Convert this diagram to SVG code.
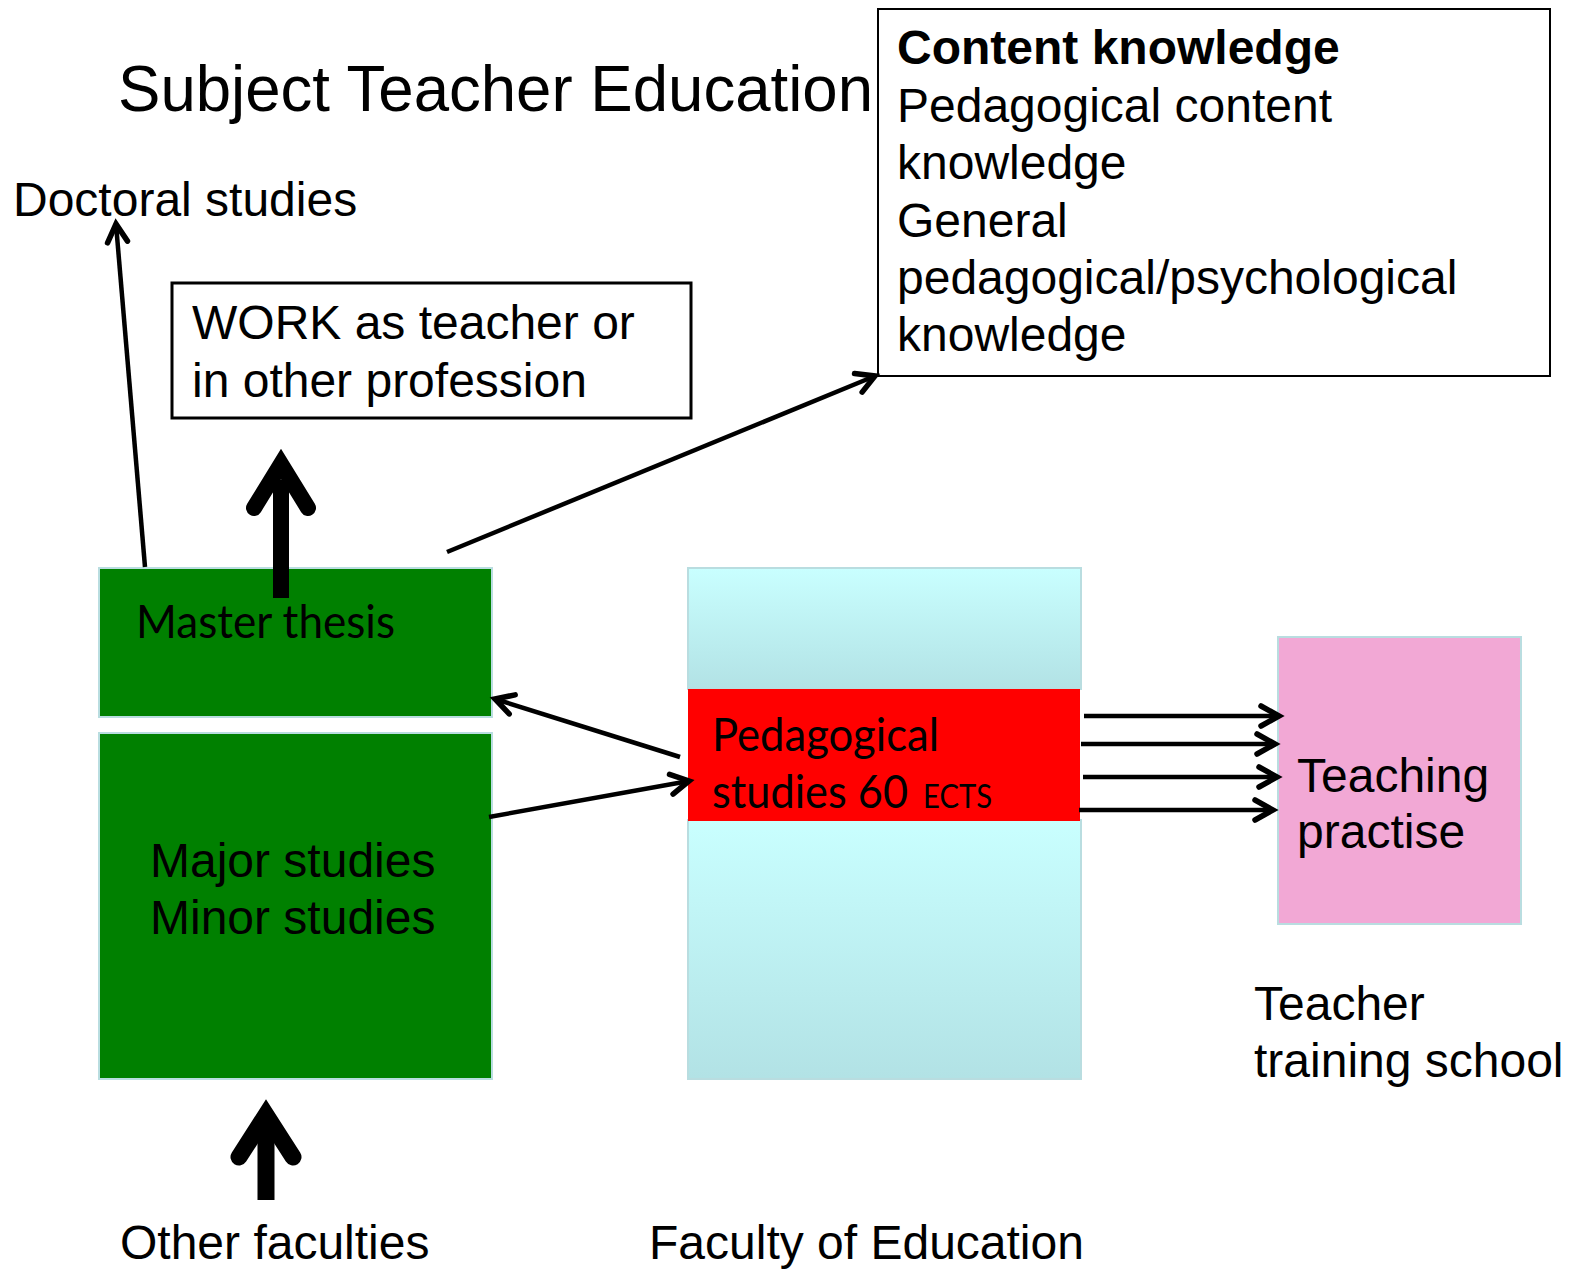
<svg xmlns="http://www.w3.org/2000/svg" width="1573" height="1269" viewBox="0 0 1573 1269">
<style>
.t{font-family:"Liberation Sans",Arial,sans-serif;font-size:48px;fill:#000}
.c{font-family:Lato,"Open Sans",sans-serif;font-size:46px;fill:#000}
.ln{stroke:#000;stroke-width:4.5;fill:none}
.thick{stroke:#000;stroke-width:16;fill:none}
.box{stroke:#b9dde0;stroke-width:2}
</style>
<defs>
<linearGradient id="blue" x1="0" y1="0" x2="0" y2="1">
<stop offset="0" stop-color="#c9ffff"/>
<stop offset="1" stop-color="#b2e2e5"/>
</linearGradient>
<marker id="ah" markerUnits="userSpaceOnUse" orient="auto" refX="0" refY="0" markerWidth="40" markerHeight="40" viewBox="-30 -20 40 40" overflow="visible">
<path d="M -18 -10 L 0 0 L -18 10" fill="none" stroke="#000" stroke-width="5.5" stroke-linecap="round" stroke-linejoin="miter"/>
</marker>
</defs>
<rect width="1573" height="1269" fill="#fff"/>

<g id="title"><text class="t" x="118" y="111" style="font-size:64px" textLength="755" lengthAdjust="spacingAndGlyphs">Subject Teacher Education</text></g>

<g id="knowledge">
<rect x="878" y="9" width="672" height="367" fill="#fff" stroke="#000" stroke-width="2"/>
<text class="t" x="897" y="64" font-weight="bold">Content knowledge</text>
<text class="t" x="897" y="122">Pedagogical content</text>
<text class="t" x="897" y="179">knowledge</text>
<text class="t" x="897" y="237">General</text>
<text class="t" x="897" y="294">pedagogical/psychological</text>
<text class="t" x="897" y="351">knowledge</text>
</g>

<g id="doctoral"><text class="t" x="13" y="216">Doctoral studies</text></g>

<g id="work">
<rect x="172" y="283" width="519" height="135" fill="#fff" stroke="#000" stroke-width="3"/>
<text class="t" x="192" y="339">WORK as teacher or</text>
<text class="t" x="192" y="397">in other profession</text>
</g>

<g id="master">
<rect class="box" x="99" y="568" width="393" height="149" fill="#008000"/>
<text class="c" x="136" y="638" textLength="259" lengthAdjust="spacingAndGlyphs">Master thesis</text>
</g>

<g id="major">
<rect class="box" x="99" y="733" width="393" height="346" fill="#008000"/>
<text class="t" x="150" y="877">Major studies</text>
<text class="t" x="150" y="934">Minor studies</text>
</g>

<g id="faculty">
<rect class="box" x="688" y="568" width="393" height="121" fill="url(#blue)"/>
<rect class="box" x="688" y="820" width="393" height="259" fill="url(#blue)"/>
</g>

<g id="pedagogical">
<rect x="688" y="689" width="392" height="132" fill="#ff0000"/>
<text class="c" x="712" y="751" textLength="227" lengthAdjust="spacingAndGlyphs">Pedagogical</text>
<text class="c" x="712" y="808" textLength="196" lengthAdjust="spacingAndGlyphs">studies 60</text>
<text class="c" x="923" y="808" style="font-size:32px" textLength="69" lengthAdjust="spacingAndGlyphs">ECTS</text>
</g>

<g id="practise">
<rect class="box" x="1278" y="637" width="243" height="287" fill="#f2a8d5"/>
<text class="t" x="1297" y="792">Teaching</text>
<text class="t" x="1297" y="848">practise</text>
</g>

<g id="school">
<text class="t" x="1254" y="1020">Teacher</text>
<text class="t" x="1254" y="1077">training school</text>
</g>

<g id="others"><text class="t" x="120" y="1259">Other faculties</text></g>
<g id="edu"><text class="t" x="649" y="1259">Faculty of Education</text></g>

<g id="connectors">
<line class="ln" x1="145" y1="567" x2="116" y2="224" marker-end="url(#ah)"/>
<line class="ln" x1="447" y1="552" x2="875" y2="376" marker-end="url(#ah)"/>
<line class="ln" x1="680" y1="757" x2="495" y2="699" marker-end="url(#ah)"/>
<line class="ln" x1="489" y1="817" x2="689" y2="781" marker-end="url(#ah)"/>
<line class="ln" x1="1084" y1="716" x2="1279" y2="716" marker-end="url(#ah)"/>
<line class="ln" x1="1081" y1="744" x2="1275" y2="744" marker-end="url(#ah)"/>
<line class="ln" x1="1083" y1="777" x2="1277" y2="777" marker-end="url(#ah)"/>
<line class="ln" x1="1079" y1="810" x2="1273" y2="810" marker-end="url(#ah)"/>
<line class="thick" x1="281" y1="598" x2="281" y2="480"/>
<path class="thick" d="M 254 508 L 281 464 L 308 508" stroke-linecap="round" stroke-linejoin="miter" stroke-miterlimit="10"/>
<line class="thick" x1="266" y1="1200" x2="266" y2="1130" style="stroke-width:17"/>
<path class="thick" d="M 239 1157 L 266 1115 L 293 1157" style="stroke-width:17" stroke-linecap="round" stroke-linejoin="miter" stroke-miterlimit="10"/>
</g>
</svg>
